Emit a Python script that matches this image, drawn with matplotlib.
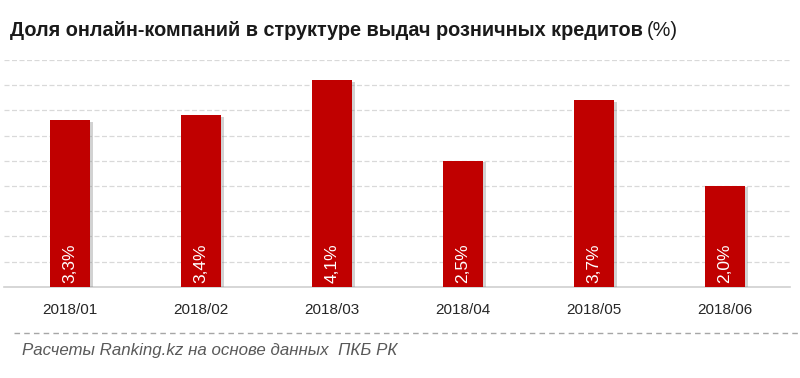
import matplotlib.pyplot as plt
import matplotlib.patheffects as pe
from matplotlib.lines import Line2D

months = ['2018/01', '2018/02', '2018/03', '2018/04', '2018/05', '2018/06']
shares = [3.3, 3.4, 4.1, 2.5, 3.7, 2.0]
labels = ['3,3%', '3,4%', '4,1%', '2,5%', '3,7%', '2,0%']

plt.rcParams['font.family'] = ['Liberation Sans', 'DejaVu Sans']

fig = plt.figure(figsize=(8, 3.78), dpi=100)
ax = fig.add_axes([0.0056, 0.2415, 0.9825, 0.5997])

x = range(len(months))
bars = ax.bar(x, shares, width=0.305, color='#C00000', zorder=3)
for b in bars:
    b.set_path_effects([pe.SimplePatchShadow(offset=(2, -1), shadow_rgbFace='#808080', alpha=0.35), pe.Normal()])

for i, (v, lab) in enumerate(zip(shares, labels)):
    ax.text(i, 0.07, lab, rotation=90, ha='center', va='bottom', color='white', fontsize=12.5, zorder=4)

ax.set_xlim(-0.5, 5.5)
ax.set_ylim(0, 4.5)
ax.set_yticks([0.5 * k for k in range(1, 10)])
ax.yaxis.grid(True, color='#d9d9d9', linestyle=(0, (4, 2)), linewidth=0.9, zorder=0)
ax.tick_params(axis='y', left=False, labelleft=False)
ax.tick_params(axis='x', length=0, pad=12, labelsize=11, labelcolor='#262626')
ax.set_xticks(list(x))
ax.set_xticklabels(months)
for s in ['top', 'right', 'left']:
    ax.spines[s].set_visible(False)
ax.spines['bottom'].set_color('#d0d0d0')
ax.spines['bottom'].set_linewidth(1.2)

title = fig.text(0.0125, 0.92, 'Доля онлайн-компаний в структуре выдач розничных кредитов', fontsize=14.3,
                 fontweight='bold', color='#1a1a1a', va='center')
fig.canvas.draw()
bb = title.get_window_extent(fig.canvas.get_renderer())
fig.text(bb.x1 / 800 + 0.005, 0.92, '(%)', fontsize=14.3, color='#1a1a1a', va='center')

fig.add_artist(Line2D([0.018, 1.0], [1 - 333 / 378] * 2, transform=fig.transFigure,
                      color='#a6a6a6', linestyle=(0, (4, 3)), linewidth=1))
fig.text(0.027, 1 - 351 / 378, 'Расчеты Ranking.kz на основе данных  ПКБ РК', fontsize=12.2,
         style='italic', color='#595959', va='center')

fig.savefig('out.png', dpi=100)
